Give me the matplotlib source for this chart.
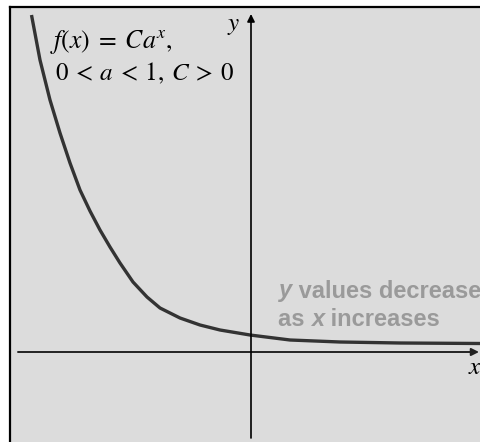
import matplotlib
matplotlib.use("Agg")
import matplotlib.pyplot as plt

plt.rcParams["mathtext.fontset"] = "stix"

# curve points (x, f(x)), units: 50 px
curve_x = [-4.39, -4.22, -4.02, -3.82, -3.62, -3.42, -3.22, -3.02, -2.82,
           -2.62, -2.36, -2.08, -1.82, -1.42, -1.02, -0.62, -0.02, 0.78,
           1.78, 2.98, 4.6]
curve_y = [6.74, 5.84, 5.04, 4.38, 3.78, 3.24, 2.82, 2.44, 2.10,
           1.78, 1.40, 1.10, 0.88, 0.68, 0.54, 0.44, 0.34, 0.24,
           0.20, 0.18, 0.17]

formula_lines = [r"$f(x)\;=\;Ca^x,$", r"$0\:<\:a\:<\:1,\:C\:>\:0$"]
note_line1 = ["y", " values decrease"]
note_line2 = ["as ", "x", " increases"]

bg = "#dcdcdc"
note_col = "#9a9a9a"

fig = plt.figure(figsize=(4.81, 4.42), dpi=100)
fig.patch.set_facecolor("white")
ax = fig.add_axes([10 / 481, 0, 471 / 481, 435 / 442])
ax.set_facecolor(bg)
ax.set_xlim(-4.82, 4.6)
ax.set_ylim(-1.8, 6.9)
ax.set_xticks([])
ax.set_yticks([])
for side in ["right", "bottom"]:
    ax.spines[side].set_visible(False)
for side in ["left", "top"]:
    ax.spines[side].set_linewidth(1.6)
    ax.spines[side].set_color("black")

# coordinate axes with arrows
ax.annotate("", xy=(4.56, 0), xytext=(-4.66, 0),
            arrowprops=dict(arrowstyle="-|>", lw=1.4, color="#222222",
                            mutation_scale=11, shrinkA=0, shrinkB=0))
ax.annotate("", xy=(0, 6.76), xytext=(0, -1.72),
            arrowprops=dict(arrowstyle="-|>", lw=1.2, color="black",
                            mutation_scale=11, shrinkA=0, shrinkB=0))

ax.plot(curve_x, curve_y, color="#333333", lw=2.4, solid_capstyle="butt",
        solid_joinstyle="round")

ax.text(-0.34, 6.54, r"$y$", fontsize=18, ha="center", va="center")
ax.text(4.48, -0.3, r"$x$", fontsize=18, ha="center", va="center")

ax.text(-4.02, 6.2, formula_lines[0], fontsize=18.5, ha="left", va="center")
ax.text(-3.92, 5.58, formula_lines[1], fontsize=18, ha="left", va="center")

# gray note, italic letters chained to upright words
fp = dict(fontsize=17, fontweight="bold", color=note_col,
          family="Liberation Sans")
t = ax.text(0.56, 1.22, note_line1[0], style="italic", va="center",
            ha="left", **fp)
ax.annotate(note_line1[1], xy=(1, 0), xycoords=t, va="bottom", ha="left",
            annotation_clip=False, **fp)
t = ax.text(0.54, 0.66, note_line2[0], va="center", ha="left", **fp)
t = ax.annotate(note_line2[1], xy=(1, 0), xycoords=t, va="bottom",
                ha="left", style="italic", **fp)
ax.annotate(note_line2[2], xy=(1, 0), xycoords=t, va="bottom", ha="left",
            **fp)

fig.savefig("out.png", dpi=100, facecolor="white")
